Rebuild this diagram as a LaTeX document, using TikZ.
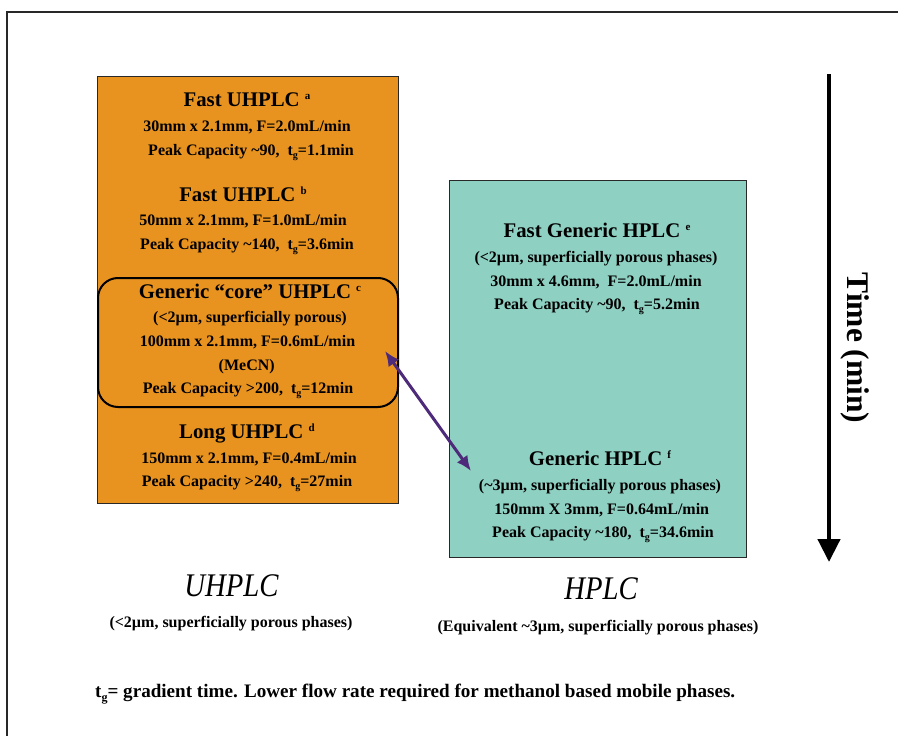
\documentclass[tikz,border=0pt]{standalone}
\usepackage{fontspec}
\setmainfont{Liberation Serif}
\usetikzlibrary{arrows.meta}
\definecolor{uorange}{RGB}{232,146,32}
\definecolor{hteal}{RGB}{142,208,194}
\definecolor{arrpurple}{RGB}{78,42,122}
\definecolor{frameline}{RGB}{40,40,40}
\newcommand{\tgs}{t\raisebox{-3.5pt}{\fontsize{10}{10}\selectfont g}}
\newcommand{\tgf}{t\raisebox{-4pt}{\fontsize{12}{12}\selectfont g}}
\newcommand{\sups}[1]{\raisebox{7pt}{\fontsize{11}{11}\selectfont #1}}
\tikzset{
  ttl/.style={font=\fontsize{20.8}{24}\selectfont\bfseries, anchor=base, inner sep=0pt},
  bdy/.style={font=\fontsize{16}{18}\selectfont\bfseries, anchor=base, inner sep=0pt},
  bigital/.style={font=\fontsize{33}{36}\selectfont\itshape, anchor=base, inner sep=0pt},
  colbox/.style={draw=frameline, line width=1pt},
}
\begin{document}
\begin{tikzpicture}[x=1pt,y=-1pt]
\useasboundingbox (0,0) rectangle (898,736);
% outer frame
\draw[frameline, line width=1.5pt] (7,736) -- (7,12) -- (898,12);
% boxes
\node[colbox, fill=uorange, minimum width=301pt, minimum height=427pt, inner sep=0pt, anchor=north west] (ubox) at (97,76) {};
\node[colbox, fill=hteal, line width=1.3pt, minimum width=297pt, minimum height=377pt, inner sep=0pt, anchor=north west] (hbox) at (449,180) {};
\node[draw=black, line width=2pt, rounded corners=20pt, minimum width=300pt, minimum height=129pt, inner sep=0pt, anchor=north west] (core) at (97,277) {};
% UHPLC texts
\node[ttl] (u1) at (247,106) {Fast UHPLC \sups{a}};
\node[bdy] (u2) at (247,131) {30mm x 2.1mm, F=2.0mL/min};
\node[bdy] (u3) at (251,155) {Peak Capacity \textasciitilde90,\ \ \tgs=1.1min};
\node[ttl] (u4) at (243,201.5) {Fast UHPLC \sups{b}};
\node[bdy] (u5) at (243,225.7) {50mm x 2.1mm, F=1.0mL/min};
\node[bdy] (u6) at (247,249) {Peak Capacity \textasciitilde140,\ \ \tgs=3.6min};
\node[ttl] (u7) at (250,298.3) {Generic “core” UHPLC \sups{c}};
\node[bdy] (u8) at (250,322.3) {(<2µm, superficially porous)};
\node[bdy] (u9) at (247.5,346) {100mm x 2.1mm, F=0.6mL/min};
\node[bdy] (u10) at (246.7,370) {(MeCN)};
\node[bdy] (u11) at (248,393.3) {Peak Capacity >200,\ \ \tgs=12min};
\node[ttl] (u12) at (247,438.3) {Long UHPLC \sups{d}};
\node[bdy] (u13) at (249,463.3) {150mm x 2.1mm, F=0.4mL/min};
\node[bdy] (u14) at (247,486) {Peak Capacity >240,\ \ \tgs=27min};
% HPLC texts
\node[ttl] (h1) at (597,237.7) {Fast Generic HPLC \sups{e}};
\node[bdy] (h2) at (596,262.3) {(<2µm, superficially porous phases)};
\node[bdy] (h3) at (596,286) {30mm x 4.6mm,\ \ F=2.0mL/min};
\node[bdy] (h4) at (597,309) {Peak Capacity \textasciitilde90,\ \ \tgs=5.2min};
\node[ttl] (h5) at (600,465.7) {Generic HPLC \sups{f}};
\node[bdy] (h6) at (600,490.7) {(\textasciitilde3µm, superficially porous phases)};
\node[bdy] (h7) at (601.7,514) {150mm X 3mm, F=0.64mL/min};
\node[bdy] (h8) at (603,537.3) {Peak Capacity \textasciitilde180,\ \ \tgs=34.6min};
% purple double arrow
\coordinate (pa) at (385,351);
\coordinate (pb) at (471,471);
\draw[arrpurple, line width=3pt, {Latex[length=15pt,width=13pt]}-{Latex[length=15pt,width=13pt]}] (pa) -- (pb);
% time arrow
\coordinate (ta) at (829,74);
\coordinate (tb) at (829,562);
\draw[black, line width=4.5pt, -{Triangle[length=23pt,width=22pt]}] (ta) -- (tb);
\node[font=\fontsize{31.5}{34}\selectfont\bfseries, rotate=-90, inner sep=0pt] (tl) at (855,348) {Time (min)};
% bottom labels
\node[bigital] (lu) at (231.5,596.5) {\scalebox{0.87}[1]{UHPLC}};
\node[bigital] (lh) at (601,599) {\scalebox{0.87}[1]{HPLC}};
\node[bdy] (su) at (231,627) {(<2µm, superficially porous phases)};
\node[bdy] (sh) at (598,631) {(Equivalent \textasciitilde3µm, superficially porous phases)};
\node[font=\fontsize{19.1}{22}\selectfont\bfseries, inner sep=0pt, anchor=base west] (fn) at (95,697.5) {\tgf= gradient time. Lower flow rate required for methanol based mobile phases.};
\end{tikzpicture}
\end{document}
